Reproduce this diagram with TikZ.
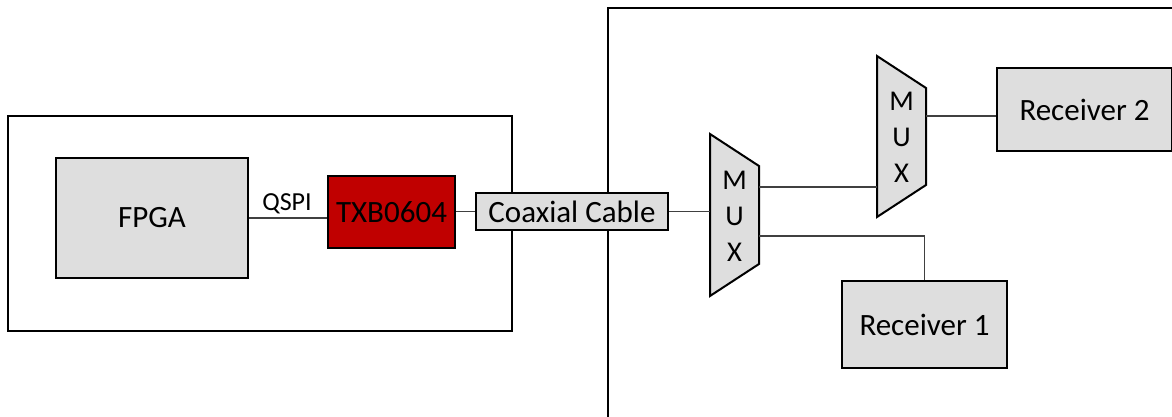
\documentclass[tikz,border=0pt]{standalone}
\usepackage{fontspec}
\setmainfont{Carlito}
\begin{document}
\begin{tikzpicture}[x=0.75pt,y=-0.75pt,
  box/.style={draw=black,line width=1.5pt,fill=boxgray,inner sep=0pt,
    font=\fontsize{23.25}{28}\selectfont},
  frame/.style={draw=black,line width=1.5pt},
  wire/.style={draw=wiregray,line width=1pt},
  thinwire/.style={draw=wiregray,line width=0.6pt},
  muxshape/.style={draw=black,line width=1.5pt,fill=boxgray,line join=miter},
  muxtext/.style={align=center,inner sep=0pt,font=\fontsize{21.5}{27}\selectfont}]
\definecolor{boxgray}{HTML}{DEDEDE}
\definecolor{wiregray}{HTML}{404040}
\definecolor{txbred}{HTML}{C00000}
\useasboundingbox (0,0) rectangle (1172,417);
% outer frames
\node[frame,minimum width=504*0.75pt,minimum height=215*0.75pt,inner sep=0pt] (leftframe) at (260,223.5) {};
\draw[frame] (1180,8) -- (608,8) -- (608,425);
% blocks
\node[box,minimum width=192*0.75pt,minimum height=120*0.75pt] (fpga) at (152,218) {FPGA};
\node[box,fill=txbred,minimum width=127*0.75pt,minimum height=72*0.75pt] (txb) at (391.5,212) {TXB0604};
\node[box,minimum width=192*0.75pt,minimum height=37*0.75pt] (coax) at (572,211.5) {Coaxial Cable};
\node[box,minimum width=175*0.75pt,minimum height=83*0.75pt] (rx2) at (1084.5,109.5) {Receiver 2};
\node[box,minimum width=165*0.75pt,minimum height=87*0.75pt] (rx1) at (924.5,324.5) {Receiver 1};
% MUX 1
\draw[muxshape] (710,134) -- (759,166) -- (759,264) -- (710,296) -- cycle;
\node[muxtext] (mux1) at (734.5,216) {M\\U\\X};
\coordinate (m1in) at (710,211.5);
\coordinate (m1outa) at (759,187);
\coordinate (m1outb) at (759,236);
% MUX 2
\draw[muxshape] (877,56) -- (926,88) -- (926,185) -- (877,217) -- cycle;
\node[muxtext] (mux2) at (901.5,137) {M\\U\\X};
\coordinate (m2in) at (877,187);
\coordinate (m2out) at (926,116);
\coordinate (bend) at (924.5,236);
% connectors
\draw[wire] (fpga.east) -- (fpga.east -| txb.west);
\node[inner sep=0pt,anchor=base,font=\fontsize{19.5}{24}\selectfont] (qspi) at (287,211) {QSPI};
\draw[wire] (txb.east |- coax.west) -- (coax.west);
\draw[wire] (coax.east) -- (m1in);
\draw[wire] (m1outa) -- (m2in);
\draw[wire] (m1outb) -- (bend);
\draw[thinwire] (bend) -- (rx1.north);
\draw[wire] (m2out) -- (m2out -| rx2.west);
\end{tikzpicture}
\end{document}
